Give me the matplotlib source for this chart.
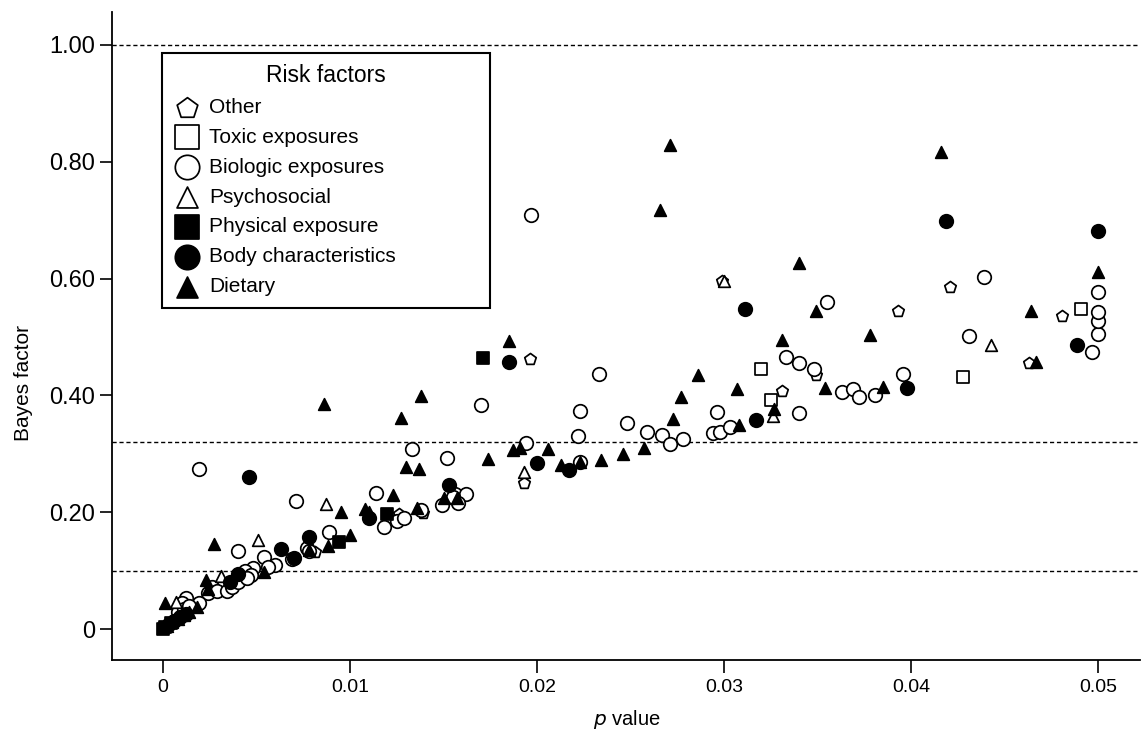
import matplotlib
matplotlib.use("Agg")
import matplotlib.pyplot as plt

plt.rcParams['font.family'] = ['Liberation Sans', 'DejaVu Sans']

# p value / Bayes factor pairs, one list per risk factor group
other_p = [0.0193, 0.0196, 0.0126, 0.0081, 0.0139, 0.0299, 0.0331, 0.0349, 0.0393, 0.0421, 0.0463, 0.0481]
other_bf = [0.250, 0.462, 0.197, 0.132, 0.199, 0.596, 0.408, 0.435, 0.545, 0.586, 0.455, 0.536]

toxic_p = [0.0320, 0.0325, 0.0428, 0.0491]
toxic_bf = [0.445, 0.393, 0.432, 0.548]

bio_p = [0.0019, 0.0071, 0.0040, 0.0054, 0.0060, 0.0048, 0.0044, 0.0047, 0.0056,
         0.0024, 0.0026, 0.0029, 0.0034, 0.0037, 0.0040, 0.0045, 0.0019, 0.0012, 0.0010,
         0.0008, 0.0011, 0.0014, 0.0089, 0.0077, 0.0078, 0.0114, 0.0118, 0.0125, 0.0129,
         0.0138, 0.0069, 0.0133, 0.0152, 0.0170, 0.0156, 0.0162, 0.0158, 0.0149, 0.0155,
         0.0194, 0.0197, 0.0223, 0.0222, 0.0223, 0.0233, 0.0248, 0.0259, 0.0267, 0.0271,
         0.0278, 0.0294, 0.0298, 0.0303, 0.0296, 0.0333, 0.0340, 0.0348, 0.0340, 0.0355,
         0.0363, 0.0369, 0.0372, 0.0381, 0.0396, 0.0431, 0.0439, 0.0497, 0.0500, 0.0500,
         0.0500, 0.0500]
bio_bf = [0.274, 0.219, 0.134, 0.123, 0.110, 0.104, 0.099, 0.092, 0.106,
          0.062, 0.072, 0.065, 0.065, 0.072, 0.080, 0.087, 0.045, 0.053, 0.045,
          0.030, 0.035, 0.040, 0.166, 0.139, 0.134, 0.233, 0.175, 0.185, 0.190,
          0.204, 0.120, 0.308, 0.293, 0.384, 0.231, 0.231, 0.216, 0.212, 0.226,
          0.318, 0.709, 0.286, 0.330, 0.373, 0.437, 0.353, 0.337, 0.332, 0.317,
          0.325, 0.336, 0.337, 0.346, 0.372, 0.466, 0.455, 0.445, 0.370, 0.560,
          0.406, 0.411, 0.397, 0.401, 0.437, 0.502, 0.603, 0.474, 0.505, 0.527,
          0.543, 0.577]

psycho_p = [0.0087, 0.0051, 0.0031, 0.0007, 0.0193, 0.0300, 0.0326, 0.0443]
psycho_bf = [0.214, 0.153, 0.091, 0.046, 0.269, 0.596, 0.365, 0.486]

physical_p = [0.0171, 0.0120, 0.0094, 0.0000, 0.0001, 0.0004]
physical_bf = [0.464, 0.197, 0.149, 0.000, 0.003, 0.010]

body_p = [0.0419, 0.0500, 0.0311, 0.0185, 0.0489, 0.0398, 0.0317, 0.0200, 0.0217,
          0.0153, 0.0046, 0.0110, 0.0078, 0.0063, 0.0070, 0.0040, 0.0003, 0.0006,
          0.0009, 0.0012, 0.0036]
body_bf = [0.699, 0.682, 0.548, 0.457, 0.486, 0.413, 0.358, 0.285, 0.272,
           0.247, 0.260, 0.190, 0.157, 0.137, 0.121, 0.094, 0.008, 0.014,
           0.020, 0.026, 0.080]

diet_p = [0.0271, 0.0266, 0.0416, 0.0340, 0.0500, 0.0349, 0.0464, 0.0331, 0.0378,
          0.0185, 0.0467, 0.0385, 0.0354, 0.0307, 0.0286, 0.0277, 0.0273, 0.0327,
          0.0308, 0.0257, 0.0246, 0.0234, 0.0223, 0.0213, 0.0206, 0.0191, 0.0187,
          0.0174, 0.0138, 0.0127, 0.0086, 0.0130, 0.0137, 0.0150, 0.0157, 0.0136,
          0.0123, 0.0108, 0.0110, 0.0095, 0.0100, 0.0088, 0.0078, 0.0054, 0.0027,
          0.0023, 0.0024, 0.0001, 0.0002, 0.0005, 0.0008, 0.0011, 0.0014, 0.0018]
diet_bf = [0.829, 0.717, 0.816, 0.627, 0.611, 0.545, 0.545, 0.495, 0.503,
           0.493, 0.457, 0.414, 0.413, 0.411, 0.435, 0.397, 0.360, 0.377,
           0.349, 0.310, 0.300, 0.289, 0.286, 0.281, 0.308, 0.310, 0.306,
           0.291, 0.399, 0.361, 0.385, 0.277, 0.274, 0.224, 0.224, 0.207,
           0.230, 0.205, 0.200, 0.200, 0.161, 0.143, 0.135, 0.098, 0.146,
           0.084, 0.068, 0.045, 0.005, 0.012, 0.018, 0.024, 0.030, 0.038]

x_ticks = [0, 0.01, 0.02, 0.03, 0.04, 0.05]
x_labels = ['0', '0.01', '0.02', '0.03', '0.04', '0.05']
y_ticks = [0, 0.2, 0.4, 0.6, 0.8, 1.0]
y_labels = ['0', '0.20', '0.40', '0.60', '0.80', '1.00']
thresholds = [1.00, 0.32, 0.10]

fig = plt.figure(figsize=(11.41, 7.34), dpi=100)
ax = fig.add_axes([0.0982, 0.1008, 0.9009, 0.8829])

for t in thresholds:
    ax.axhline(t, color='black', lw=1.0, ls=(0, (3, 2)), zorder=1)

lw = 1.25
ax.scatter(other_p, other_bf, marker='p', s=75, facecolors='white', edgecolors='black', linewidths=lw, label='Other', zorder=3)
ax.scatter(toxic_p, toxic_bf, marker='s', s=85, facecolors='white', edgecolors='black', linewidths=lw, label='Toxic exposures', zorder=3)
ax.scatter(bio_p, bio_bf, marker='o', s=95, facecolors='white', edgecolors='black', linewidths=lw, label='Biologic exposures', zorder=3)
ax.scatter(psycho_p, psycho_bf, marker='^', s=70, facecolors='white', edgecolors='black', linewidths=lw, label='Psychosocial', zorder=3)
ax.scatter(physical_p, physical_bf, marker='s', s=85, facecolors='black', edgecolors='black', linewidths=lw, label='Physical exposure', zorder=3)
ax.scatter(body_p, body_bf, marker='o', s=95, facecolors='black', edgecolors='black', linewidths=lw, label='Body characteristics', zorder=3)
ax.scatter(diet_p, diet_bf, marker='^', s=70, facecolors='black', edgecolors='black', linewidths=lw, label='Dietary', zorder=3)

ax.set_xlim(-0.00273, 0.05225)
ax.set_ylim(-0.053, 1.0565)
ax.set_xticks(x_ticks)
ax.set_xticklabels(x_labels)
ax.set_yticks(y_ticks)
ax.set_yticklabels(y_labels)
ax.tick_params(direction='out', length=9, width=1.2, color='black')
ax.tick_params(axis='x', labelsize=14, pad=5)
ax.tick_params(axis='y', labelsize=17, pad=3)
for side in ['top', 'right']:
    ax.spines[side].set_visible(False)
for side in ['left', 'bottom']:
    ax.spines[side].set_linewidth(1.3)

ax.set_ylabel('Bayes factor', fontsize=15)
ax.yaxis.set_label_coords(-0.077, 0.427)
ax.set_xlabel('$\\it{p}$ value', fontsize=14.5)
ax.xaxis.set_label_coords(0.501, -0.074)

leg = ax.legend(loc='upper left', bbox_to_anchor=(0.0486, 0.937, 0.319, 0.0), mode='expand',
                borderaxespad=0, title='Risk factors', fontsize=15, title_fontsize=16.5,
                markerscale=1.8, fancybox=False, edgecolor='black', framealpha=1,
                handletextpad=0.4, labelspacing=0.52, borderpad=0.55, handlelength=1.3)
leg.get_frame().set_linewidth(1.5)

fig.savefig('out.png', dpi=100)
